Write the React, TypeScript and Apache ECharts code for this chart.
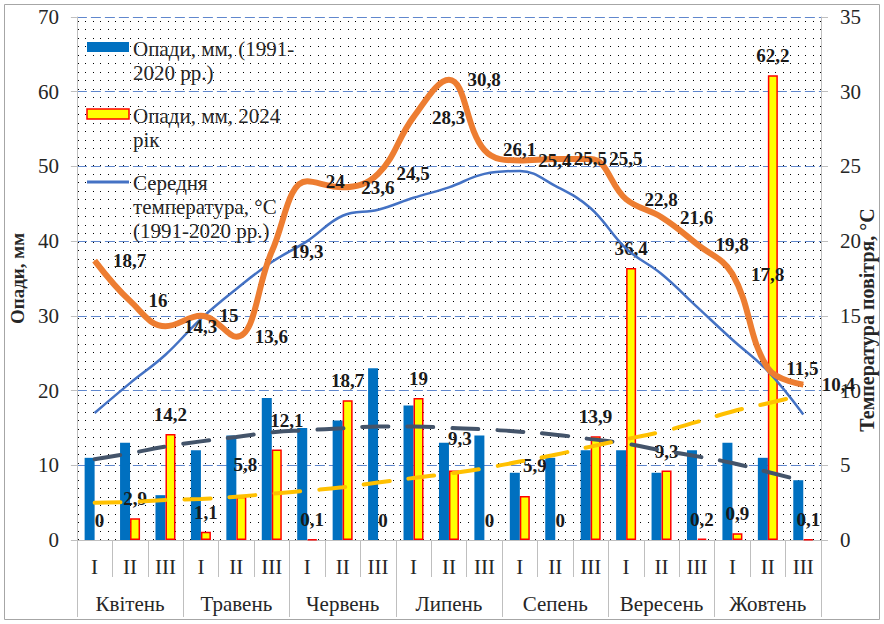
import React, { useEffect, useRef } from 'react';
import * as echarts from 'echarts';

const decades = ['I', 'II', 'III', 'I', 'II', 'III', 'I', 'II', 'III', 'I', 'II', 'III', 'I', 'II', 'III', 'I', 'II', 'III', 'I', 'II', 'III'];
const months = ['Квітень', 'Травень', 'Червень', 'Липень', 'Сепень', 'Вересень', 'Жовтень'];

const precipNorm = [11, 13, 6, 12, 14, 19, 15, 16, 23, 18, 13, 14, 9, 11, 12, 12, 9, 12, 13, 11, 8];
const precip2024 = [0, 2.9, 14.2, 1.1, 5.8, 12.1, 0.1, 18.7, 0, 19, 9.3, 0, 5.9, 0, 13.9, 36.4, 9.3, 0.2, 0.9, 62.2, 0.1];
const tempNorm = [8.5, 10.5, 12.4, 14.8, 16.8, 18.6, 20.0, 21.7, 22.1, 22.9, 23.6, 24.5, 24.7, 23.7, 22.2, 19.5, 17.8, 15.6, 13.4, 11.3, 8.4];
const temp2024 = [18.7, 16, 14.3, 15, 13.6, 19.3, 24, 23.6, 24.5, 28.3, 30.8, 26.1, 25.4, 25.5, 25.5, 22.8, 21.6, 19.8, 17.8, 11.5, 10.4];
const trendNorm = [10.8, 11.6, 12.5, 13.2, 13.8, 14.4, 14.7, 14.95, 15.2, 15.2, 15.0, 14.8, 14.5, 14.1, 13.5, 12.9, 12.0, 11.2, 10.3, 9.1, 7.9];
const trend2024 = [5.0, 5.1, 5.35, 5.5, 5.8, 6.2, 6.6, 7.05, 7.7, 8.3, 8.9, 9.6, 10.5, 11.4, 12.5, 13.5, 14.5, 15.8, 17.2, 18.3, 19.4];

const labelNudges: Record<number, [number, number]> = { 4: [4, -13], 5: [10, -10], 10: [6, -13], 12: [10, -11] };

const FONT = '"Liberation Serif", "Times New Roman", serif';
const TXT = '#262626';
const comma = (v: number) => String(v).replace('.', ',');

function makeDots() {
  const c = document.createElement('canvas');
  c.width = 15;
  c.height = 17;
  const ctx = c.getContext('2d')!;
  ctx.fillStyle = '#ffffff';
  ctx.fillRect(0, 0, 15, 17);
  ctx.fillStyle = '#000000';
  ctx.fillRect(3, 4, 1, 1);
  ctx.fillRect(10, 4, 1, 1);
  ctx.fillRect(3, 12, 1, 1);
  ctx.fillRect(10, 12, 1, 1);
  return c;
}

export default function App() {
  const ref = useRef<HTMLDivElement>(null);
  useEffect(() => {
    const chart = echarts.init(ref.current!, null, { renderer: 'svg' });
    const pattern: any = { image: makeDots(), repeat: 'repeat', imageWidth: 15, imageHeight: 17 };
    const legendText = { fontFamily: FONT, fontSize: 21, fill: TXT, lineHeight: 24 };
    const option: any = {
      animation: false,
      backgroundColor: '#ffffff',
      textStyle: { fontFamily: FONT },
      grid: { left: 68, right: 63, top: 17, bottom: 84, show: true, backgroundColor: pattern, borderWidth: 0 },
      xAxis: [
        {
          type: 'category', data: decades, position: 'bottom',
          axisLine: { show: true, lineStyle: { color: '#bfbfbf', width: 1 } },
          axisTick: { show: true, interval: 0, length: 37, lineStyle: { color: '#bfbfbf' } },
          axisLabel: { interval: 0, margin: 16, fontSize: 21, color: TXT, fontFamily: FONT },
        },
        {
          type: 'category', data: months, position: 'bottom', offset: 0,
          axisLine: { show: false },
          axisTick: { show: true, interval: 0, length: 77, lineStyle: { color: '#bfbfbf' } },
          axisLabel: { interval: 0, margin: 53, fontSize: 21, color: TXT, fontFamily: FONT },
        },
      ],
      yAxis: [
        {
          type: 'value', min: 0, max: 70, interval: 10, position: 'left',
          name: 'Опади, мм', nameLocation: 'middle', nameGap: 40,
          nameTextStyle: { fontFamily: FONT, fontWeight: 'bold', fontSize: 19, color: TXT },
          axisLine: { show: true, lineStyle: { color: '#bfbfbf' } },
          axisTick: { show: true, length: 6, lineStyle: { color: '#bfbfbf' } },
          axisLabel: { margin: 18, fontSize: 21, color: TXT, fontFamily: FONT },
          splitLine: { show: true, lineStyle: { color: '#4472C4', type: [10, 4], width: 1, opacity: 0.85 } },
        },
        {
          type: 'value', min: 0, max: 35, interval: 5, position: 'right',
          axisLine: { show: true, lineStyle: { color: '#bfbfbf' } },
          axisTick: { show: true, length: 7, lineStyle: { color: '#bfbfbf' } },
          axisLabel: { margin: 19, fontSize: 21, color: TXT, fontFamily: FONT },
          splitLine: { show: false },
        },
      ],
      series: [
        {
          name: 'Опади, мм, (1991-2020 рр.)', type: 'bar', data: precipNorm,
          barWidth: 10, barGap: '0%', itemStyle: { color: '#0070C0' }, z: 2,
        },
        {
          name: 'Опади, мм, 2024 рік', type: 'bar',
          data: precip2024.map((v, i) => {
            const item: any = { value: v };
            if (labelNudges[i]) item.label = { offset: labelNudges[i] };
            if (v === 0) item.itemStyle = { borderWidth: 0 };
            return item;
          }),
          barWidth: 10, itemStyle: { color: '#FFFF00', borderColor: '#FF0000', borderWidth: 1.5 }, z: 2,
          label: {
            show: true, position: 'top', distance: 10, formatter: (p: any) => comma(p.value),
            fontFamily: FONT, fontWeight: 'bold', fontSize: 19, color: '#1a1a1a',
          },
        },
        {
          name: 'Тренд опадів (1991-2020 рр.)', type: 'line', data: trendNorm, smooth: true, symbol: 'none', z: 3,
          lineStyle: { color: '#44546A', width: 4, type: [26, 19], cap: 'round' },
        },
        {
          name: 'Тренд опадів 2024', type: 'line', data: trend2024, smooth: true, symbol: 'none', z: 3,
          lineStyle: { color: '#FFC000', width: 4, type: [26, 19], cap: 'round' },
        },
        {
          name: 'Середня температура, °С (1991-2020 рр.)', type: 'line', yAxisIndex: 1, data: tempNorm,
          smooth: 0.4, symbol: 'none', z: 4, lineStyle: { color: '#4472C4', width: 2.5 },
        },
        {
          name: 'Температура 2024', type: 'line', yAxisIndex: 1, data: temp2024,
          smooth: 0.4, symbol: 'circle', symbolSize: 1, z: 5,
          itemStyle: { color: '#ED7D31' }, lineStyle: { color: '#ED7D31', width: 6 },
          label: {
            show: true, position: 'right', distance: 18, formatter: (p: any) => comma(p.value),
            fontFamily: FONT, fontWeight: 'bold', fontSize: 19, color: '#1a1a1a',
          },
        },
      ],
      graphic: [
        { type: 'rect', shape: { x: 4.5, y: 4.5, width: 875, height: 615 }, style: { fill: 'none', stroke: '#a6a6a6', lineWidth: 1 }, z: 0, silent: true },
        { type: 'rect', shape: { x: 87, y: 42, width: 42, height: 10 }, style: { fill: '#0070C0' }, z: 10 },
        { type: 'text', x: 133, y: 37, style: { text: 'Опади, мм, (1991-\n2020 рр.)', ...legendText, textVerticalAlign: 'top' }, z: 10 },
        { type: 'rect', shape: { x: 87, y: 109, width: 42, height: 10 }, style: { fill: '#FFFF00', stroke: '#FF0000', lineWidth: 1.5 }, z: 10 },
        { type: 'text', x: 133, y: 104, style: { text: 'Опади, мм, 2024\nрік', ...legendText, textVerticalAlign: 'top' }, z: 10 },
        { type: 'line', shape: { x1: 87, y1: 182, x2: 129, y2: 182 }, style: { stroke: '#4472C4', lineWidth: 3 }, z: 10 },
        { type: 'text', x: 133, y: 171, style: { text: 'Середня\nтемпература, °С\n(1991-2020 рр.)', ...legendText, textVerticalAlign: 'top' }, z: 10 },
        {
          type: 'text', x: 867, y: 320, rotation: Math.PI / 2,
          style: { text: 'Температура повітря, °С', fontFamily: FONT, fontWeight: 'bold', fontSize: 20, fill: TXT, textAlign: 'center', textVerticalAlign: 'middle' },
          z: 10,
        },
      ],
    };
    chart.setOption(option);
    return () => chart.dispose();
  }, []);
  return <div ref={ref} style={{ position: 'fixed', left: 0, top: 0, width: 884, height: 624, background: '#fff' }} />;
}
